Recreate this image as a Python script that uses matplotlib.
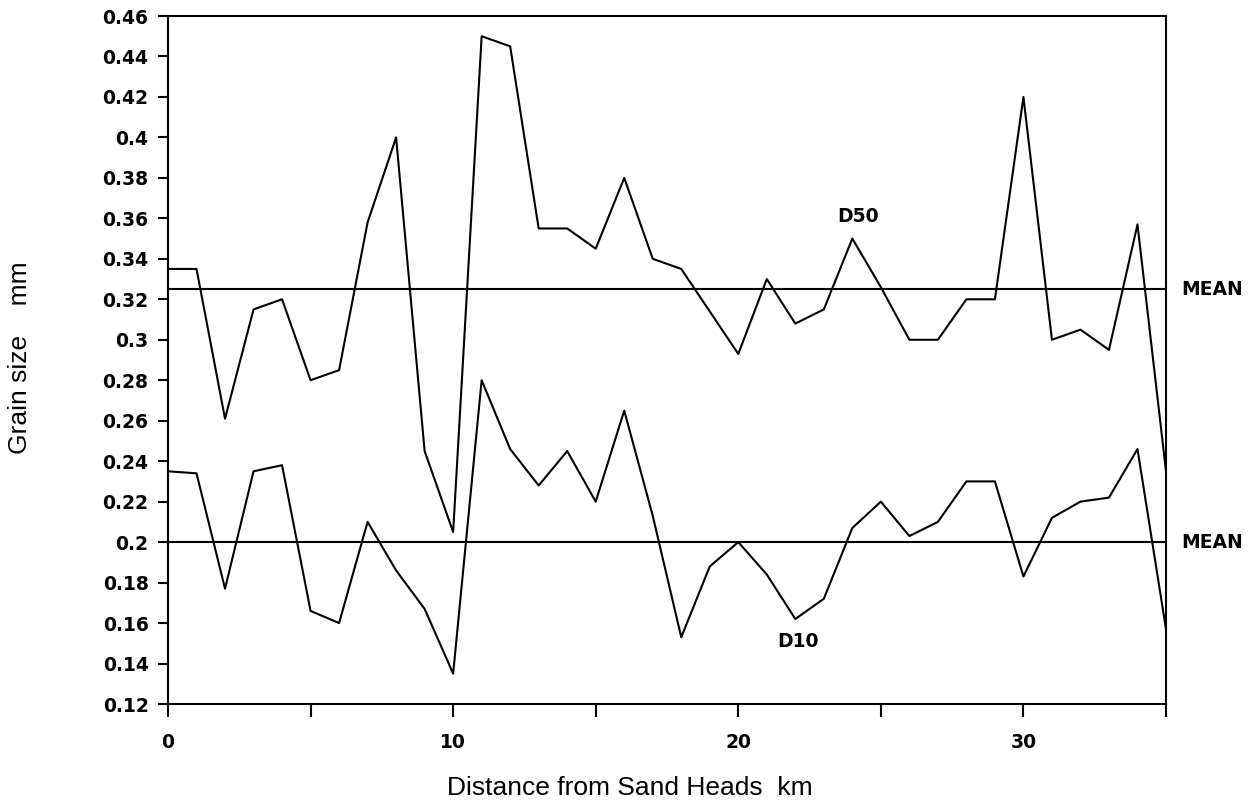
import numpy as np
import matplotlib
matplotlib.use("Agg")
import matplotlib.pyplot as plt

# distance from Sand Heads (km) and grain sizes (mm)
distance = list(range(0, 36))
d50 = [0.335, 0.335, 0.261, 0.315, 0.320, 0.280, 0.285, 0.358, 0.400, 0.245,
       0.205, 0.450, 0.445, 0.355, 0.355, 0.345, 0.380, 0.340, 0.335, 0.314,
       0.293, 0.330, 0.308, 0.315, 0.350, 0.326, 0.300, 0.300, 0.320, 0.320,
       0.420, 0.300, 0.305, 0.295, 0.357, 0.235]
d10 = [0.235, 0.234, 0.177, 0.235, 0.238, 0.166, 0.160, 0.210, 0.186, 0.167,
       0.135, 0.280, 0.246, 0.228, 0.245, 0.220, 0.265, 0.213, 0.153, 0.188,
       0.200, 0.184, 0.162, 0.172, 0.207, 0.220, 0.203, 0.210, 0.230, 0.230,
       0.183, 0.212, 0.220, 0.222, 0.246, 0.157]
d50_mean = 0.325
d10_mean = 0.200

y_ticks = [0.46, 0.44, 0.42, 0.4, 0.38, 0.36, 0.34, 0.32, 0.3, 0.28, 0.26,
           0.24, 0.22, 0.2, 0.18, 0.16, 0.14, 0.12]
x_ticks = [0, 5, 10, 15, 20, 25, 30, 35]
x_labels = ["0", "", "10", "", "20", "", "30", ""]

fig = plt.figure(figsize=(12.48, 8.08), dpi=100)
ax = fig.add_axes([168 / 1248, 104 / 808, 998 / 1248, 688 / 808])

ax.plot(distance, d50, color="black", lw=1.5)
ax.plot(distance, d10, color="black", lw=1.5)
ax.axhline(d50_mean, color="black", lw=1.5)
ax.axhline(d10_mean, color="black", lw=1.5)

ax.set_xlim(0, 35)
ax.set_ylim(0.12, 0.46)
ax.set_yticks(y_ticks)
ax.set_yticklabels([f"{v:g}" for v in y_ticks])
ax.set_xticks(x_ticks)
ax.set_xticklabels(x_labels)

tick_font = dict(family="DejaVu Sans", weight="bold", size=13.5)
for lab in ax.get_xticklabels() + ax.get_yticklabels():
    lab.set_fontproperties(matplotlib.font_manager.FontProperties(**tick_font))
ax.tick_params(axis="y", direction="out", length=7, width=1.5, pad=7)
ax.tick_params(axis="x", direction="out", length=9, width=1.5, pad=12)
for sp in ax.spines.values():
    sp.set_linewidth(1.5)

lab_font = dict(family="DejaVu Sans", weight="bold", size=13.5)
ax.text(24.2, 0.361, "D50", ha="center", va="center", **lab_font)
ax.text(22.1, 0.151, "D10", ha="center", va="center", **lab_font)
ax.text(35.55, d50_mean, "MEAN", ha="left", va="center", clip_on=False, **lab_font)
ax.text(35.55, d10_mean, "MEAN", ha="left", va="center", clip_on=False, **lab_font)

fig.text(630 / 1248, 1 - 788 / 808, "Distance from Sand Heads  km",
         ha="center", va="center", family="Liberation Sans", size=19)
fig.text(20 / 1248, 1 - 358 / 808, "Grain size    mm", rotation=90,
         ha="center", va="center", family="Liberation Sans", size=19)

fig.savefig("out.png", dpi=100)
